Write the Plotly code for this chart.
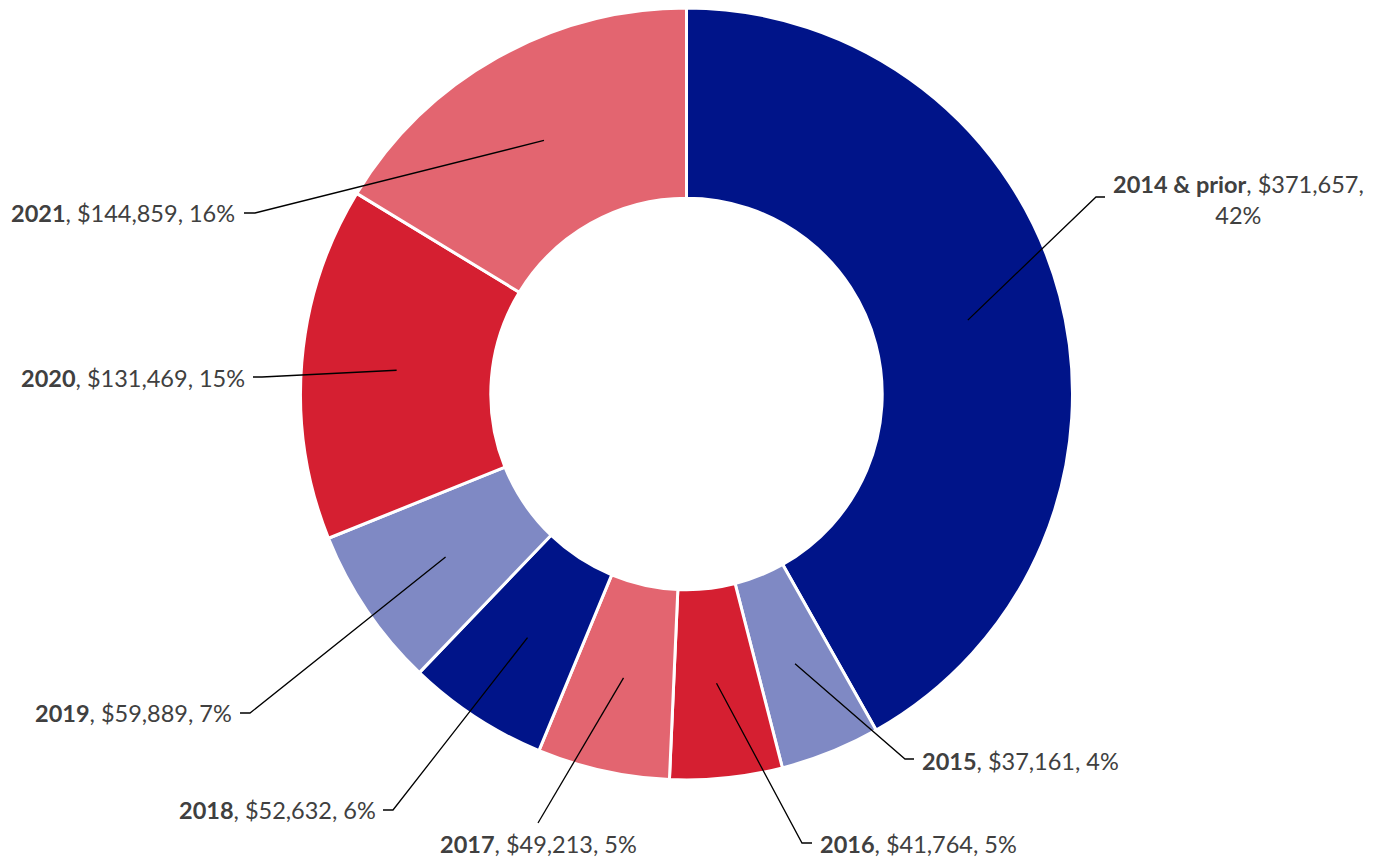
import math
import plotly.graph_objects as go

# ---- data ----
categories = ["2014 & prior", "2015", "2016", "2017", "2018", "2019", "2020", "2021"]
values = [371657, 37161, 41764, 49213, 52632, 59889, 131469, 144859]
percent_labels = ["42%", "4%", "5%", "5%", "6%", "7%", "15%", "16%"]

# ---- style ----
colors = ["#001489", "#7F89C4", "#D51F31", "#E36570",
          "#001489", "#7F89C4", "#D51F31", "#E36570"]
W, H = 1375, 861
CX, CY = 686.5, 394.0    # pie center (px)
R_OUT = 386.0
HOLE = 0.507
R_MID = R_OUT * (1 + HOLE) / 2
FONT = "Lato"
FS = 23.5
TXT = "#404040"

# label layout: elbow point, end of horizontal tick, text anchor (px)
label_layout = [
    dict(elbow=(1096, 197), end=(1105, 197), text=(1238, 199), xanchor="center", br=True),
    dict(elbow=(905, 759), end=(914, 759), text=(920, 761), xanchor="left"),
    dict(elbow=(802, 843), end=(812, 843), text=(818, 844), xanchor="left"),
    dict(elbow=(538, 823), end=None, text=(538, 844), xanchor="center"),
    dict(elbow=(393, 810), end=(383, 810), text=(378, 810), xanchor="right"),
    dict(elbow=(250, 713), end=(240, 713), text=(234, 713), xanchor="right"),
    dict(elbow=(262, 377), end=(253, 377), text=(247, 378), xanchor="right"),
    dict(elbow=(255, 213), end=(244, 213), text=(237, 213), xanchor="right"),
]

def px2paper(x, y):
    return x / W, 1 - y / H

dom_x = [(CX - R_OUT) / W, (CX + R_OUT) / W]
dom_y = [1 - (CY + R_OUT) / H, 1 - (CY - R_OUT) / H]

fig = go.Figure(go.Pie(
    labels=categories, values=values, sort=False, direction="clockwise",
    rotation=0, hole=HOLE, textinfo="none", hoverinfo="label+value+percent",
    marker=dict(colors=colors, line=dict(color="white", width=3)),
    domain=dict(x=dom_x, y=dom_y), showlegend=False,
))

total = sum(values)
cum = 0
shapes, annotations = [], []
for cat, v, pct, lay in zip(categories, values, percent_labels, label_layout):
    mid = (cum + v / 2) / total
    cum += v
    ang = 2 * math.pi * mid
    sx = CX + R_MID * math.sin(ang)
    sy = CY - R_MID * math.cos(ang)
    pts = [(sx, sy), lay["elbow"]]
    if lay["end"] is not None:
        pts.append(lay["end"])
    path = "M " + " L ".join(f"{px2paper(x, y)[0]:.5f},{px2paper(x, y)[1]:.5f}" for x, y in pts)
    shapes.append(dict(type="path", path=path, xref="paper", yref="paper",
                       line=dict(color="black", width=1.3)))
    money = f"${v:,}"
    if lay.get("br"):
        text = f"<b>{cat}</b>, {money},<br>{pct}"
    else:
        text = f"<b>{cat}</b>, {money}, {pct}"
    tx, ty = px2paper(*lay["text"])
    annotations.append(dict(x=tx, y=ty, xref="paper", yref="paper", text=text,
                            showarrow=False, xanchor=lay["xanchor"], yanchor="middle",
                            align="center", font=dict(family=FONT, size=FS, color=TXT)))

fig.update_layout(
    width=W, height=H, margin=dict(l=0, r=0, t=0, b=0),
    paper_bgcolor="white", plot_bgcolor="white",
    shapes=shapes, annotations=annotations,
)
fig.write_html("out.html")
